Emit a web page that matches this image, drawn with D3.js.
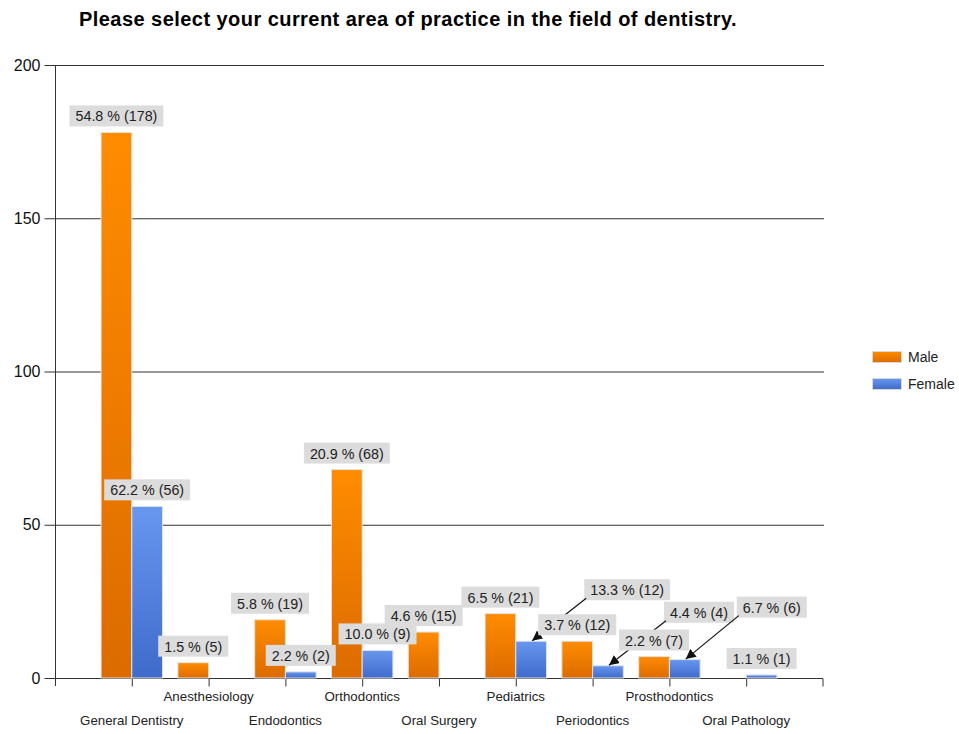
<!DOCTYPE html>
<html>
<head>
<meta charset="utf-8">
<script src="https://cdn.jsdelivr.net/npm/d3@7"></script>
<style>
  body { margin: 0; background: #fff; }
  svg { display: block; font-family: "Liberation Sans", Arial, sans-serif; }
</style>
</head>
<body>
<div id="chart"></div>
<script>
const categories = ["General Dentistry", "Anesthesiology", "Endodontics", "Orthodontics", "Oral Surgery",
                    "Pediatrics", "Periodontics", "Prosthodontics", "Oral Pathology"];
const maleCounts   = [178, 5, 19, 68, 15, 21, 12, 7, null];
const malePct      = [54.8, 1.5, 5.8, 20.9, 4.6, 6.5, 3.7, 2.2, null];
const femaleCounts = [56, null, 2, 9, null, 12, 4, 6, 1];
const femalePct    = [62.2, null, 2.2, 10.0, null, 13.3, 4.4, 6.7, 1.1];
const yTicks = [0, 50, 100, 150, 200];
const seriesNames = ["Male", "Female"];

// labels that were pushed aside and get an arrow (offset of the box from its normal spot)
const callouts = {
  "Female|Pediatrics":     [96, -35],
  "Female|Periodontics":   [91, -37],
  "Female|Prosthodontics": [87, -36]
};

const W = 959, H = 734;
const pLeft = 55, pRight = 823, pTop = 65, pBottom = 678;

const svg = d3.select("#chart").append("svg").attr("width", W).attr("height", H);

const defs = svg.append("defs");
function grad(id, c1, c2) {
  const g = defs.append("linearGradient").attr("id", id)
    .attr("x1", 0).attr("y1", 0).attr("x2", 0).attr("y2", 1);
  g.append("stop").attr("offset", "0%").attr("stop-color", c1);
  g.append("stop").attr("offset", "100%").attr("stop-color", c2);
}
grad("gMale", "#ff8c00", "#dc6b00");
grad("gFemale", "#6797ef", "#3f6bcb");
const fills = { Male: "url(#gMale)", Female: "url(#gFemale)" };

defs.append("marker").attr("id", "arrow")
  .attr("viewBox", "0 0 10 10").attr("refX", 10).attr("refY", 5)
  .attr("markerWidth", 10).attr("markerHeight", 10).attr("markerUnits", "userSpaceOnUse")
  .attr("orient", "auto")
  .append("path").attr("d", "M0,0 L10,5 L0,10 Z").attr("fill", "#111");

const x = d3.scalePoint().domain(categories).range([pLeft, pRight]).padding(1);
const step = x.step();
const barW = step * 0.4;
const y = d3.scaleLinear().domain([0, 200]).range([pBottom, pTop]);

// title
svg.append("text")
  .attr("x", 408).attr("y", 26).attr("text-anchor", "middle")
  .attr("font-size", 20).attr("font-weight", "bold").attr("fill", "#000")
  .attr("letter-spacing", 0.45)
  .text("Please select your current area of practice in the field of dentistry.");

// grid lines
svg.append("g").selectAll("line")
  .data(yTicks.filter(d => d > 0)).join("line")
  .attr("x1", pLeft).attr("x2", pRight + 1)
  .attr("y1", d => y(d) + 0.5).attr("y2", d => y(d) + 0.5)
  .attr("stroke", "#333").attr("stroke-width", 1);

// y axis
const yAxis = svg.append("g").attr("transform", `translate(${pLeft + 0.5},0)`)
  .call(d3.axisLeft(y).tickValues(yTicks).tickSize(11).tickPadding(4));
yAxis.select(".domain").attr("d", `M0,${pTop}V${pBottom + 8}`).attr("stroke", "#333");
yAxis.selectAll(".tick line").attr("stroke", "#333");
yAxis.selectAll(".tick text").attr("font-size", 16).attr("fill", "#111")
  .attr("font-family", "Liberation Sans, Arial, sans-serif");

// x axis
const xAxis = svg.append("g").attr("transform", `translate(0,${pBottom + 0.5})`)
  .call(d3.axisBottom(x).tickSize(8).tickFormat(""));
xAxis.select(".domain").attr("d", `M${pLeft},0H${pRight}V8`).attr("stroke", "#333");
xAxis.selectAll(".tick line").attr("stroke", "#333");
xAxis.selectAll(".tick text").remove();

svg.append("g").selectAll("text")
  .data(categories).join("text")
  .attr("x", d => x(d))
  .attr("y", (d, i) => i % 2 === 0 ? 725 : 701)
  .attr("text-anchor", "middle").attr("font-size", 13.3).attr("fill", "#222")
  .text(d => d);

// bars
const bars = [];
categories.forEach((c, i) => {
  bars.push({ s: "Male", c, v: maleCounts[i], p: malePct[i], xc: x(c) - barW / 2 });
  bars.push({ s: "Female", c, v: femaleCounts[i], p: femalePct[i], xc: x(c) + barW / 2 });
});
const shown = bars.filter(d => d.v != null);

svg.append("g").selectAll("rect")
  .data(shown).join("rect")
  .attr("x", d => d.xc - barW / 2)
  .attr("y", d => y(d.v))
  .attr("width", barW)
  .attr("height", d => pBottom - y(d.v))
  .attr("fill", d => fills[d.s])
  .attr("stroke", "#e2e2e2").attr("stroke-width", 1);

// data labels
const lab = svg.append("g");
shown.forEach(d => {
  const g = lab.append("g");
  const t = g.append("text").attr("font-size", 14.3).attr("fill", "#222")
    .attr("text-anchor", "middle")
    .text(`${d.p.toFixed(1)} % (${d.v})`);
  const tw = t.node().getComputedTextLength();
  const bw = tw + 12, bh = 21;
  const off = callouts[d.s + "|" + d.c] || [0, 0];
  const cx = d.xc + off[0];
  const by = y(d.v) - 6 + off[1];
  g.insert("rect", "text")
    .attr("x", cx - bw / 2).attr("y", by - bh)
    .attr("width", bw).attr("height", bh)
    .attr("fill", "#dcdcdc");
  t.attr("x", cx).attr("y", by - 5);
  if (callouts[d.s + "|" + d.c]) {
    lab.append("line")
      .attr("x1", cx - bw / 2 + 2).attr("y1", by - 2)
      .attr("x2", d.xc + 1).attr("y2", y(d.v) - 0.5)
      .attr("stroke", "#111").attr("stroke-width", 1.2)
      .attr("marker-end", "url(#arrow)");
  }
});

// legend
const leg = svg.append("g");
seriesNames.forEach((s, i) => {
  const yy = 351 + i * 27;
  leg.append("rect").attr("x", 872.5).attr("y", yy + 0.5).attr("width", 29).attr("height", 11)
    .attr("fill", fills[s]).attr("stroke", "#d8d8d8");
  leg.append("text").attr("x", 908).attr("y", yy + 11).attr("font-size", 14).attr("fill", "#222").text(s);
});
</script>
</body>
</html>
